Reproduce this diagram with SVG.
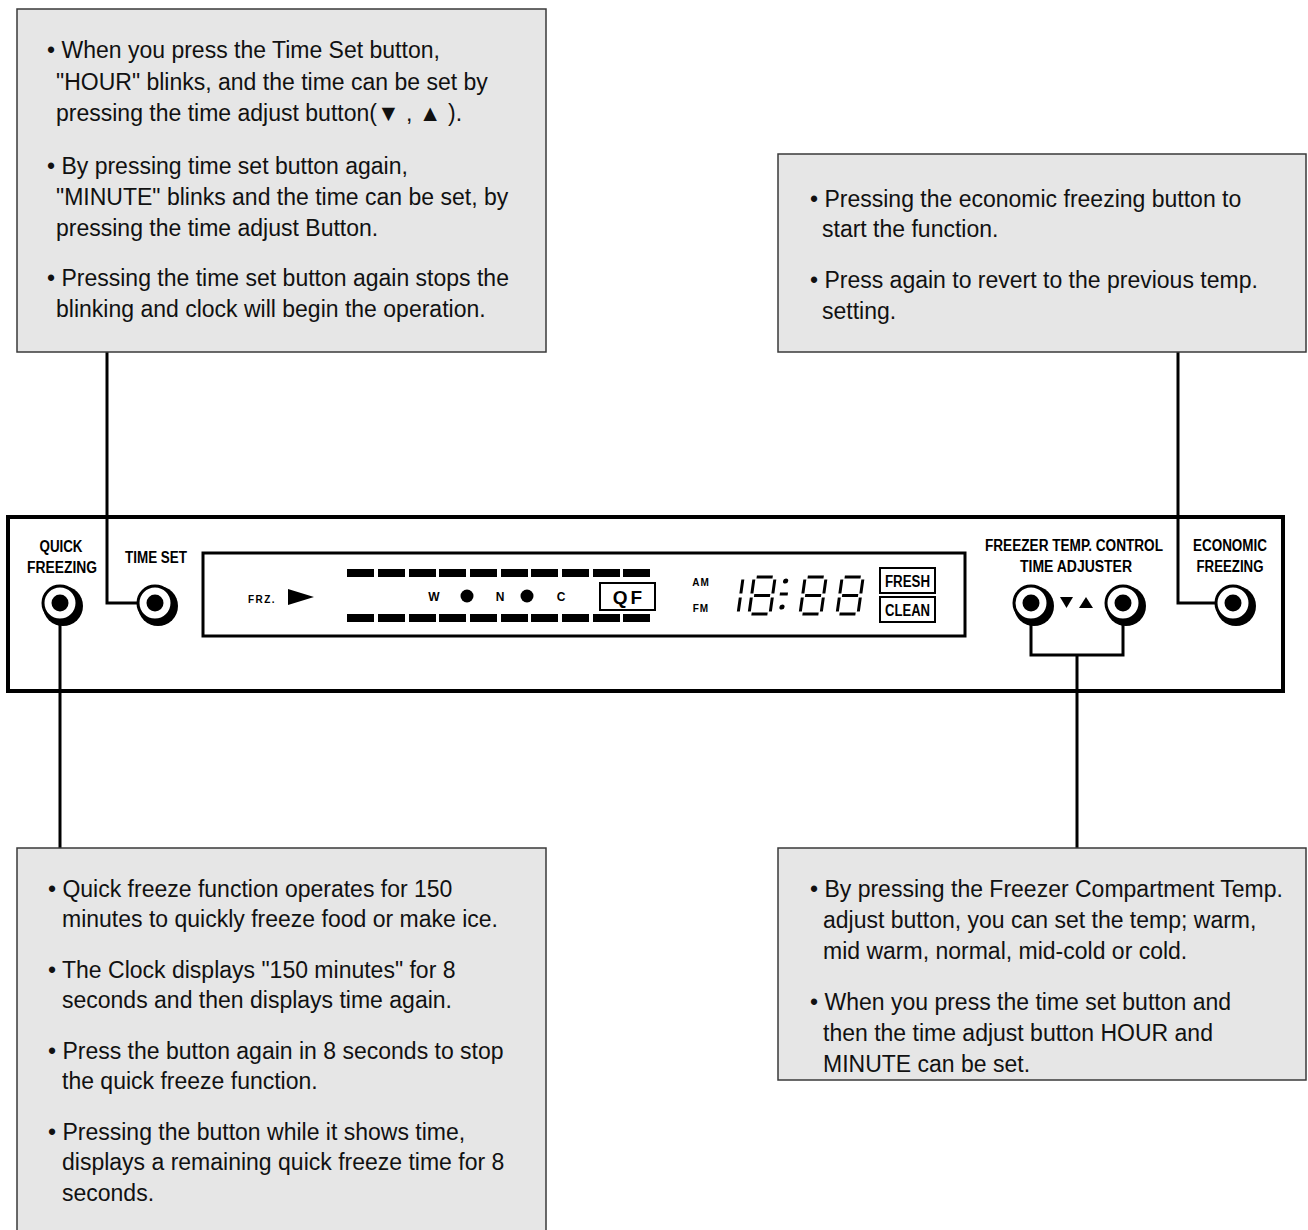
<svg xmlns="http://www.w3.org/2000/svg" xmlns:xlink="http://www.w3.org/1999/xlink" width="1308" height="1230" viewBox="0 0 1308 1230">
<style>
.box{fill:#e6e6e6;stroke:#3a3a3a;stroke-width:1.5}
.t{font-family:"Liberation Sans",Arial,sans-serif;font-size:23px;fill:#111}
.lb{font-family:"Liberation Sans",Arial,sans-serif;font-weight:bold;font-size:16px;fill:#000;text-anchor:middle}
.sm{font-family:"Liberation Sans",Arial,sans-serif;font-weight:bold;font-size:10px;fill:#000;text-anchor:middle}
.conn{fill:none;stroke:#000;stroke-width:3}
.seg{fill:none;stroke:#000;stroke-width:3}
</style>
<defs>
<g id="btn">
<circle cx="3" cy="3" r="20" fill="#000"/>
<circle cx="0" cy="0" r="17" fill="#fff" stroke="#000" stroke-width="3"/>
<circle cx="0" cy="0" r="8.5" fill="#000"/>
</g>
<path id="d8" class="seg" d="M2.5,577H18.5M21,579.5V593.5M21,597.5V611.5M2.5,614H18.5M0,597.5V611.5M0,579.5V593.5M2.5,595.5H18.5"/>
</defs>
<rect width="1308" height="1230" fill="#fff"/>

<g id="panel">
<rect x="8" y="517" width="1275" height="174" fill="#fff" stroke="#000" stroke-width="4"/>
<rect x="203" y="553" width="762" height="83" fill="#fff" stroke="#000" stroke-width="3"/>
</g>

<g id="connectors">
<path class="conn" d="M107,352V603H155"/>
<path class="conn" d="M60,603V848"/>
<path class="conn" d="M1178,352V603H1233"/>
<path class="conn" d="M1031,603V655H1123V603M1077,655V848"/>
</g>

<g id="box-timeset">
<rect class="box" x="17" y="9" width="529" height="343"/>
<text class="t" x="47" y="58">• When you press the Time Set button,</text>
<text class="t" x="56" y="90">"HOUR" blinks, and the time can be set by</text>
<text class="t" x="56" y="121">pressing the time adjust button(▼ , ▲ ).</text>
<text class="t" x="47" y="174">• By pressing time set button again,</text>
<text class="t" x="56" y="205">"MINUTE" blinks and the time can be set, by</text>
<text class="t" x="56" y="236">pressing the time adjust Button.</text>
<text class="t" x="47" y="286">• Pressing the time set button again stops the</text>
<text class="t" x="56" y="317">blinking and clock will begin the operation.</text>
</g>

<g id="box-economic">
<rect class="box" x="778" y="154" width="528" height="198"/>
<text class="t" x="810" y="207">• Pressing the economic freezing button to</text>
<text class="t" x="822" y="237">start the function.</text>
<text class="t" x="810" y="288">• Press again to revert to the previous temp.</text>
<text class="t" x="822" y="319">setting.</text>
</g>

<g id="box-quick">
<rect class="box" x="17" y="848" width="529" height="400"/>
<text class="t" x="48" y="897">• Quick freeze function operates for 150</text>
<text class="t" x="62" y="927">minutes to quickly freeze food or make ice.</text>
<text class="t" x="48" y="978">• The Clock displays "150 minutes" for 8</text>
<text class="t" x="62" y="1008">seconds and then displays time again.</text>
<text class="t" x="48" y="1059">• Press the button again in 8 seconds to stop</text>
<text class="t" x="62" y="1089">the quick freeze function.</text>
<text class="t" x="48" y="1140">• Pressing the button while it shows time,</text>
<text class="t" x="62" y="1170">displays a remaining quick freeze time for 8</text>
<text class="t" x="62" y="1201">seconds.</text>
</g>

<g id="box-freezer">
<rect class="box" x="778" y="848" width="528" height="232"/>
<text class="t" x="810" y="897">• By pressing the Freezer Compartment Temp.</text>
<text class="t" x="823" y="928">adjust button, you can set the temp; warm,</text>
<text class="t" x="823" y="959">mid warm, normal, mid-cold or cold.</text>
<text class="t" x="810" y="1010">• When you press the time set button and</text>
<text class="t" x="823" y="1041">then the time adjust button HOUR and</text>
<text class="t" x="823" y="1072">MINUTE can be set.</text>
</g>

<g id="btn-quick">
<text class="lb" x="61" y="552" textLength="43" lengthAdjust="spacingAndGlyphs">QUICK</text>
<text class="lb" x="62" y="573" textLength="70" lengthAdjust="spacingAndGlyphs">FREEZING</text>
<use xlink:href="#btn" x="60" y="603"/>
</g>

<g id="btn-timeset">
<text class="lb" x="156" y="563" textLength="62" lengthAdjust="spacingAndGlyphs">TIME SET</text>
<use xlink:href="#btn" x="155" y="603"/>
</g>

<g id="display">
<text class="sm" x="262" y="603" style="letter-spacing:1.5px">FRZ.</text>
<polygon points="288,589 314,597 288,605" fill="#000"/>
<g fill="#000">
<rect x="347" y="569" width="27" height="8"/><rect x="378" y="569" width="27" height="8"/><rect x="409" y="569" width="27" height="8"/><rect x="439" y="569" width="27" height="8"/><rect x="470" y="569" width="27" height="8"/><rect x="501" y="569" width="27" height="8"/><rect x="531" y="569" width="27" height="8"/><rect x="562" y="569" width="27" height="8"/><rect x="593" y="569" width="27" height="8"/><rect x="623" y="569" width="27" height="8"/>
<rect x="347" y="614" width="27" height="8"/><rect x="378" y="614" width="27" height="8"/><rect x="409" y="614" width="27" height="8"/><rect x="439" y="614" width="27" height="8"/><rect x="470" y="614" width="27" height="8"/><rect x="501" y="614" width="27" height="8"/><rect x="531" y="614" width="27" height="8"/><rect x="562" y="614" width="27" height="8"/><rect x="593" y="614" width="27" height="8"/><rect x="623" y="614" width="27" height="8"/>
<circle cx="467" cy="596" r="6.5"/>
<circle cx="527" cy="596" r="6.5"/>
</g>
<text class="sm" x="434" y="601" style="font-size:12px">W</text>
<text class="sm" x="500" y="601" style="font-size:12px">N</text>
<text class="sm" x="561" y="601" style="font-size:12px">C</text>
<rect x="600" y="583" width="55" height="27" fill="#fff" stroke="#000" stroke-width="2"/>
<text class="sm" x="629" y="604" style="font-size:19px;letter-spacing:3px">QF</text>
<text class="sm" x="701" y="586" style="font-size:10px;letter-spacing:1px">AM</text>
<text class="sm" x="701" y="612" style="font-size:10px;letter-spacing:1px">FM</text>
<g transform="matrix(1 0 -0.14 1 85.96 0)">
<path class="seg" d="M738,579.5V593.5M738,597.5V611.5"/>
<use xlink:href="#d8" x="749"/>
<use xlink:href="#d8" x="800"/>
<use xlink:href="#d8" x="837"/>
<circle cx="781" cy="581" r="2.6" fill="#000"/>
<circle cx="781" cy="607" r="2.6" fill="#000"/>
<path class="seg" d="M777,594H785"/>
</g>
<rect x="880" y="568" width="55" height="25" fill="#fff" stroke="#000" stroke-width="2"/>
<text class="lb" x="907.5" y="587" textLength="45" lengthAdjust="spacingAndGlyphs">FRESH</text>
<rect x="880" y="597" width="55" height="25" fill="#fff" stroke="#000" stroke-width="2"/>
<text class="lb" x="907.5" y="616" textLength="45" lengthAdjust="spacingAndGlyphs">CLEAN</text>
</g>

<g id="btn-freezer">
<text class="lb" x="1074" y="551" textLength="178" lengthAdjust="spacingAndGlyphs">FREEZER TEMP. CONTROL</text>
<text class="lb" x="1076" y="572" textLength="112" lengthAdjust="spacingAndGlyphs">TIME ADJUSTER</text>
<use xlink:href="#btn" x="1031" y="603"/>
<use xlink:href="#btn" x="1123" y="603"/>
<polygon points="1060,597 1073,597 1066.5,608" fill="#000"/>
<polygon points="1079,608 1093,608 1086,597" fill="#000"/>
</g>

<g id="btn-economic">
<text class="lb" x="1230" y="551" textLength="74" lengthAdjust="spacingAndGlyphs">ECONOMIC</text>
<text class="lb" x="1230" y="572" textLength="67" lengthAdjust="spacingAndGlyphs">FREEZING</text>
<use xlink:href="#btn" x="1233" y="603"/>
</g>
</svg>
